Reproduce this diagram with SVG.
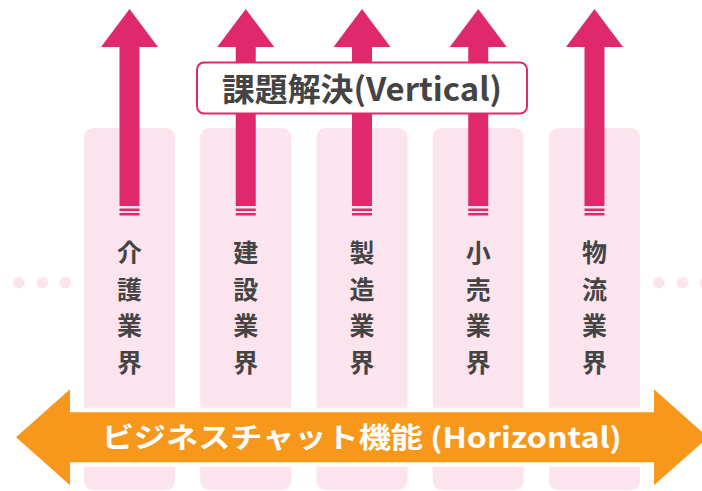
<svg xmlns="http://www.w3.org/2000/svg" xmlns:xlink="http://www.w3.org/1999/xlink" width="702" height="491" viewBox="0 0 702 491">
  <style>
    .col { fill: #FCE4EE; }
    .dot { fill: #FCE4EE; }
    .varrow { fill: #E0296D; }
    .vtext { font-family: "Noto Sans CJK JP", "Noto Sans", sans-serif; font-weight: 700; font-size: 25px; fill: #444444; text-anchor: middle; }
    .label-box { fill: #FFFFFF; stroke: #E0296D; stroke-width: 2; }
    .label-text { font-family: "Noto Sans CJK JP", "Noto Sans", sans-serif; font-weight: 700; font-size: 32px; fill: #444444; text-anchor: middle; }
    .harrow { fill: #F7981D; stroke: #FFFFFF; stroke-width: 9; paint-order: stroke; stroke-linejoin: miter; }
    .htext { font-family: "Noto Sans CJK JP", "Noto Sans", sans-serif; font-weight: 700; font-size: 28px; fill: #FFFFFF; text-anchor: middle; }
  </style>
  <defs>
    <g id="va">
      <path class="varrow" d="M0,9 L28.5,47 L10,47 L10,206 L-10,206 L-10,47 L-28.5,47 Z"/>
      <rect class="varrow" x="-10" y="208.5" width="20" height="2.5"/>
      <rect class="varrow" x="-10" y="213" width="20" height="2.5"/>
    </g>
  </defs>

  <g id="col-kaigo">
    <rect class="col" x="84" y="128" width="91" height="362" rx="9"/>
  </g>
  <g id="col-kensetsu">
    <rect class="col" x="200.25" y="128" width="91" height="362" rx="9"/>
  </g>
  <g id="col-seizo">
    <rect class="col" x="316.5" y="128" width="91" height="362" rx="9"/>
  </g>
  <g id="col-kouri">
    <rect class="col" x="432.75" y="128" width="91" height="362" rx="9"/>
  </g>
  <g id="col-butsuryu">
    <rect class="col" x="549" y="128" width="91" height="362" rx="9"/>
  </g>

  <g id="dots-left">
    <circle class="dot" cx="19" cy="282.7" r="5.8"/>
    <circle class="dot" cx="42.3" cy="282.7" r="5.8"/>
    <circle class="dot" cx="65.3" cy="282.7" r="5.8"/>
  </g>
  <g id="dots-right">
    <circle class="dot" cx="659" cy="282.7" r="5.8"/>
    <circle class="dot" cx="682.3" cy="282.7" r="5.8"/>
    <circle class="dot" cx="705.6" cy="282.7" r="5.8"/>
  </g>

  <g id="connectors">
    <use xlink:href="#va" href="#va" x="129.5" y="0"/>
    <use xlink:href="#va" href="#va" x="245.75" y="0"/>
    <use xlink:href="#va" href="#va" x="362" y="0"/>
    <use xlink:href="#va" href="#va" x="478.25" y="0"/>
    <use xlink:href="#va" href="#va" x="594.5" y="0"/>
  </g>

  <g id="label-vertical">
    <rect class="label-box" x="197" y="62.5" width="330" height="51" rx="7"/>
    <text class="label-text" x="362" y="101" textLength="280" lengthAdjust="spacingAndGlyphs">課題解決(Vertical)</text>
  </g>

  <g id="text-kaigo">
    <text class="vtext" x="129.5" y="262">介</text>
    <text class="vtext" x="129.5" y="298.5">護</text>
    <text class="vtext" x="129.5" y="335">業</text>
    <text class="vtext" x="129.5" y="371.5">界</text>
  </g>
  <g id="text-kensetsu">
    <text class="vtext" x="245.75" y="262">建</text>
    <text class="vtext" x="245.75" y="298.5">設</text>
    <text class="vtext" x="245.75" y="335">業</text>
    <text class="vtext" x="245.75" y="371.5">界</text>
  </g>
  <g id="text-seizo">
    <text class="vtext" x="362" y="262">製</text>
    <text class="vtext" x="362" y="298.5">造</text>
    <text class="vtext" x="362" y="335">業</text>
    <text class="vtext" x="362" y="371.5">界</text>
  </g>
  <g id="text-kouri">
    <text class="vtext" x="478.25" y="262">小</text>
    <text class="vtext" x="478.25" y="298.5">売</text>
    <text class="vtext" x="478.25" y="335">業</text>
    <text class="vtext" x="478.25" y="371.5">界</text>
  </g>
  <g id="text-butsuryu">
    <text class="vtext" x="594.5" y="262">物</text>
    <text class="vtext" x="594.5" y="298.5">流</text>
    <text class="vtext" x="594.5" y="335">業</text>
    <text class="vtext" x="594.5" y="371.5">界</text>
  </g>

  <g id="horizontal-arrow">
    <path class="harrow" d="M16,437.3 L70,389.3 L70,412.3 L654,412.3 L654,389.3 L708,437.3 L654,485.3 L654,462.3 L70,462.3 L70,485.3 Z"/>
    <text class="htext" x="361.7" y="448" textLength="520" lengthAdjust="spacingAndGlyphs">ビジネスチャット機能 (Horizontal)</text>
  </g>
</svg>
